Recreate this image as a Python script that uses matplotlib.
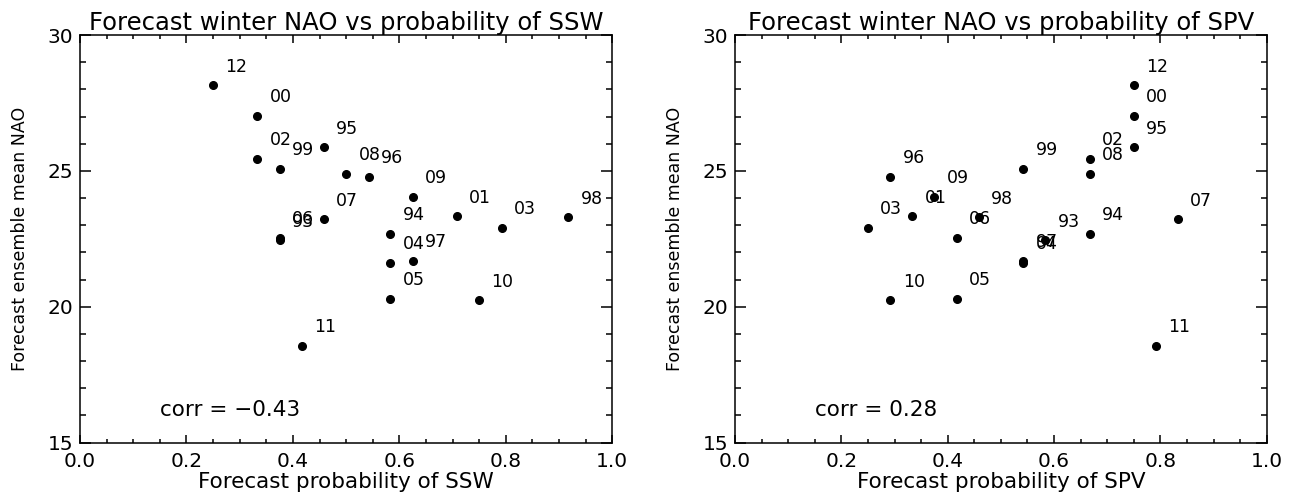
import numpy as np
import matplotlib
matplotlib.use('Agg')
import matplotlib.pyplot as plt
from matplotlib.ticker import MultipleLocator

# winters 1993/94 ... 2012/13, labelled by two-digit year
years = ['93', '94', '95', '96', '97', '98', '99', '00', '01', '02',
         '03', '04', '05', '06', '07', '08', '09', '10', '11', '12']

# forecast ensemble mean NAO (same for both panels)
nao = [22.44, 22.68, 25.86, 24.79, 21.68, 23.29, 25.06, 27.01, 23.32, 25.44,
       22.90, 21.61, 20.28, 22.53, 23.21, 24.89, 24.05, 20.23, 18.57, 28.15]

# forecast probability of a sudden stratospheric warming
p_ssw = [0.375, 0.583, 0.458, 0.542, 0.625, 0.917, 0.375, 0.333, 0.708, 0.333,
         0.792, 0.583, 0.583, 0.375, 0.458, 0.500, 0.625, 0.750, 0.417, 0.250]

# forecast probability of a strong polar vortex
p_spv = [0.583, 0.667, 0.750, 0.292, 0.542, 0.458, 0.542, 0.750, 0.333, 0.667,
         0.250, 0.542, 0.417, 0.417, 0.833, 0.667, 0.375, 0.292, 0.792, 0.750]

corr_ssw = '\u22120.43'
corr_spv = '0.28'

plt.rcParams['font.family'] = 'DejaVu Sans'

fig = plt.figure(figsize=(12.95, 4.93), dpi=100)
ax1 = fig.add_axes([0.0618, 0.1024, 0.4110, 0.8266])
ax2 = fig.add_axes([0.5676, 0.1024, 0.4106, 0.8266])


def scatter_panel(ax, prob, name, corr):
    ax.plot(prob, nao, 'o', color='black', markersize=5.5, linestyle='none')
    for x, y, lab in zip(prob, nao, years):
        ax.annotate(lab, (x, y), xytext=(8.9, 13.5), textcoords='offset points',
                    ha='left', va='center', fontsize=12.5)
    ax.set_xlim(0, 1)
    ax.set_ylim(15, 30)
    ax.xaxis.set_major_locator(MultipleLocator(0.2))
    ax.xaxis.set_minor_locator(MultipleLocator(0.05))
    ax.yaxis.set_major_locator(MultipleLocator(5))
    ax.yaxis.set_minor_locator(MultipleLocator(1))
    ax.xaxis.set_major_formatter(matplotlib.ticker.FormatStrFormatter('%.1f'))
    ax.tick_params(axis='x', which='both', direction='in', top=True, labelsize=14.5,
                   pad=7, width=1.1)
    ax.tick_params(axis='x', which='major', length=5.8)
    ax.tick_params(axis='x', which='minor', length=2.9)
    ax.tick_params(axis='y', which='both', direction='in', right=True, labelsize=14.5,
                   pad=5, width=1.1)
    ax.tick_params(axis='y', which='major', length=7.7)
    ax.tick_params(axis='y', which='minor', length=4)
    for sp in ax.spines.values():
        sp.set_linewidth(1.1)

    ax.set_title('Forecast winter NAO vs probability of ' + name, fontsize=17.5, pad=2)
    ax.set_xlabel('Forecast probability of ' + name, fontsize=15.5)
    ax.xaxis.set_label_coords(0.5, -0.096)
    ax.xaxis.label.set_va('center')
    ax.set_ylabel('Forecast ensemble mean NAO', fontsize=12.5)
    ax.yaxis.set_label_coords(-0.113, 0.5)
    ax.yaxis.label.set_va('center')
    ax.text(0.15, 16.2, 'corr = ' + corr, fontsize=15.5, ha='left', va='center')


scatter_panel(ax1, p_ssw, 'SSW', corr_ssw)
scatter_panel(ax2, p_spv, 'SPV', corr_spv)

fig.savefig('out.png', dpi=100)
